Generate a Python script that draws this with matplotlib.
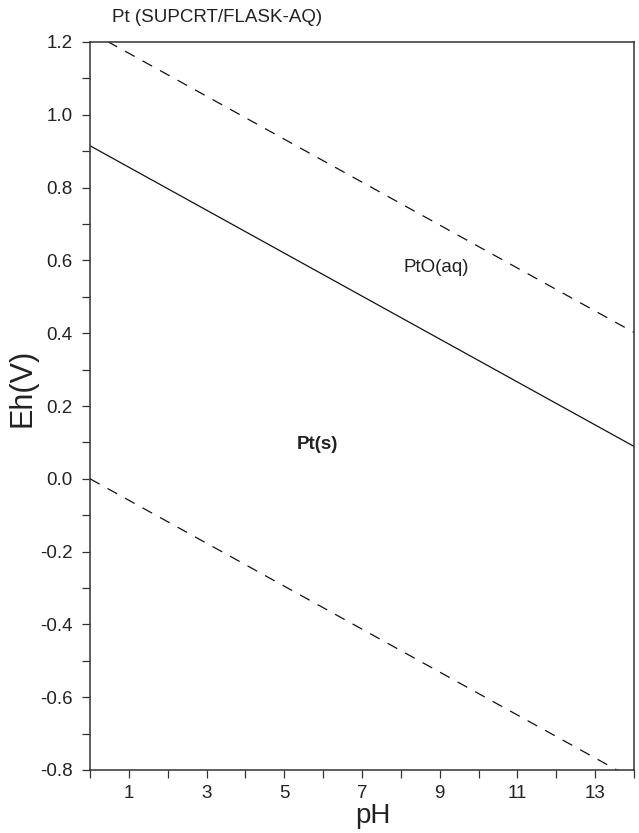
import matplotlib
matplotlib.use("Agg")
import matplotlib.pyplot as plt
from matplotlib.ticker import MultipleLocator, FixedLocator

plt.rcParams['font.family'] = ['Liberation Sans', 'DejaVu Sans']
plt.rcParams['lines.scale_dashes'] = False

# -----------------------------
# Data
# -----------------------------
ph_range = [0, 14]
solid_eh = [0.915, 0.089]        # Pt(s) / PtO(aq) boundary
upper_eh = [1.228, 0.402]        # water stability, O2
lower_eh = [0.0, -0.826]         # water stability, H2

labels = ["PtO(aq)", "Pt(s)"]
label_x = [8.92, 5.85]
label_y = [0.58, 0.093]
label_weight = ["normal", "bold"]

x_ticks = [1, 3, 5, 7, 9, 11, 13]
y_ticks = [-0.8, -0.6, -0.4, -0.2, 0.0, 0.2, 0.4, 0.6, 0.8, 1.0, 1.2]

fig = plt.figure(figsize=(6.39, 8.33), dpi=100)
ax = fig.add_axes([90 / 639, 1 - 770 / 833, 544 / 639, 728 / 833])

ax.plot(ph_range, solid_eh, color="#111111", lw=0.9)
ax.plot(ph_range, upper_eh, color="#111111", lw=0.9, dashes=(7.9, 6.5))
ax.plot(ph_range, lower_eh, color="#111111", lw=0.9, dashes=(7.9, 6.5))

for txt, x, y, w in zip(labels, label_x, label_y, label_weight):
    ax.text(x, y, txt, ha="center", va="center", fontsize=13.5, fontweight=w,
            color="#222222")

ax.set_xlim(0, 14)
ax.set_ylim(-0.8, 1.2)

ax.xaxis.set_major_locator(FixedLocator(x_ticks))
ax.xaxis.set_minor_locator(MultipleLocator(1))
ax.yaxis.set_major_locator(FixedLocator(y_ticks))
ax.yaxis.set_minor_locator(MultipleLocator(0.1))
ax.set_yticklabels([f"{v:.1f}" for v in y_ticks])

ax.tick_params(which="both", direction="out", top=False, right=False,
               labelsize=13.5, color="#333333", labelcolor="#222222")
ax.tick_params(which="major", length=5.5, width=0.9, pad=7)
ax.tick_params(axis="x", which="major", pad=5)
ax.tick_params(which="minor", length=5.5, width=0.9)
for s in ax.spines.values():
    s.set_linewidth(1.1)
    s.set_color("#333333")

ax.set_xlabel("pH", fontsize=20, color="#222222")
ax.xaxis.set_label_coords(0.52, -0.0728)
ax.xaxis.label.set_va("baseline")
ax.set_ylabel("Eh(V)", fontsize=22, color="#222222")
ax.yaxis.set_label_coords(-0.097, 0.525)

fig.text(112 / 639, 1 - 17 / 833, "Pt (SUPCRT/FLASK-AQ)", fontsize=13.5,
         ha="left", va="center", color="#222222")

fig.savefig("out.png", dpi=100)
